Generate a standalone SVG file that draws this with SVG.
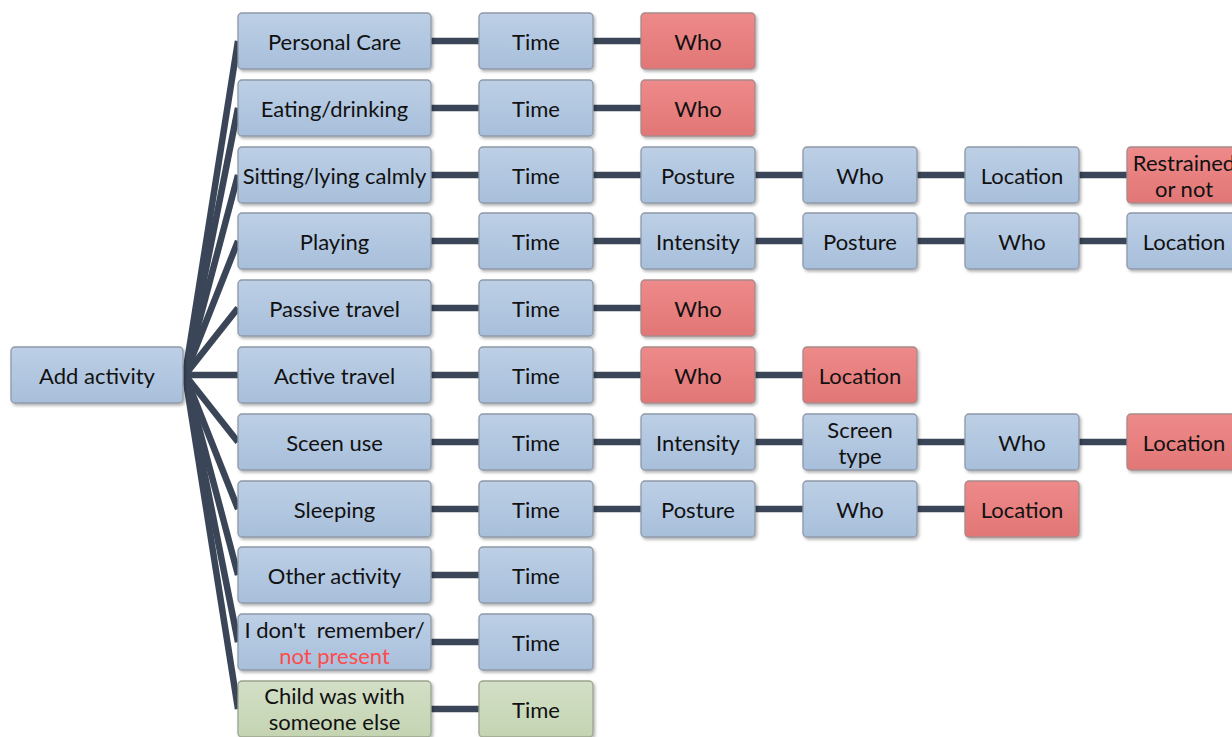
<svg xmlns="http://www.w3.org/2000/svg" width="1232" height="737" viewBox="0 0 1232 737">
<defs>
<linearGradient id="gb" x1="0" y1="0" x2="0" y2="1"><stop offset="0" stop-color="#bccfe5"/><stop offset="1" stop-color="#a8bfdb"/></linearGradient>
<linearGradient id="gr" x1="0" y1="0" x2="0" y2="1"><stop offset="0" stop-color="#ee8a8a"/><stop offset="1" stop-color="#e27676"/></linearGradient>
<linearGradient id="gg" x1="0" y1="0" x2="0" y2="1"><stop offset="0" stop-color="#d3dfc6"/><stop offset="1" stop-color="#c4d4b2"/></linearGradient>
<filter id="sh" x="-10%" y="-20%" width="130%" height="150%"><feDropShadow dx="1.5" dy="2" stdDeviation="1.8" flood-color="#000" flood-opacity="0.3"/></filter>
</defs>
<style>
.b rect{stroke:#8e99a8;stroke-width:1.3;filter:url(#sh)}
.blue rect{fill:url(#gb)}
.red rect{fill:url(#gr);stroke:#a88a8a}
.green rect{fill:url(#gg);stroke:#9aa48f}
.b text{font-family:Lato,"Open Sans",sans-serif;font-size:22px;fill:#111;text-anchor:middle;dominant-baseline:central;white-space:pre}
.b text .rt{fill:#ff4b4b}
#conn line{stroke:#3a4658;stroke-width:6.5;stroke-linecap:butt}
</style>
<rect width="1232" height="737" fill="#fff"/>
<g id="conn">
<line x1="185" y1="375" x2="238" y2="41"/>
<line x1="185" y1="375" x2="238" y2="108"/>
<line x1="185" y1="375" x2="238" y2="175"/>
<line x1="185" y1="375" x2="238" y2="241"/>
<line x1="185" y1="375" x2="238" y2="308"/>
<line x1="185" y1="375" x2="238" y2="375"/>
<line x1="185" y1="375" x2="238" y2="442"/>
<line x1="185" y1="375" x2="238" y2="509"/>
<line x1="185" y1="375" x2="238" y2="575"/>
<line x1="185" y1="375" x2="238" y2="642"/>
<line x1="185" y1="375" x2="238" y2="709"/>
<line x1="431" y1="41" x2="479" y2="41"/><line x1="593" y1="41" x2="641" y2="41"/>
<line x1="431" y1="108" x2="479" y2="108"/><line x1="593" y1="108" x2="641" y2="108"/>
<line x1="431" y1="175" x2="479" y2="175"/><line x1="593" y1="175" x2="641" y2="175"/><line x1="755" y1="175" x2="803" y2="175"/><line x1="917" y1="175" x2="965" y2="175"/><line x1="1079" y1="175" x2="1127" y2="175"/>
<line x1="431" y1="241" x2="479" y2="241"/><line x1="593" y1="241" x2="641" y2="241"/><line x1="755" y1="241" x2="803" y2="241"/><line x1="917" y1="241" x2="965" y2="241"/><line x1="1079" y1="241" x2="1127" y2="241"/>
<line x1="431" y1="308" x2="479" y2="308"/><line x1="593" y1="308" x2="641" y2="308"/>
<line x1="431" y1="375" x2="479" y2="375"/><line x1="593" y1="375" x2="641" y2="375"/><line x1="755" y1="375" x2="803" y2="375"/>
<line x1="431" y1="442" x2="479" y2="442"/><line x1="593" y1="442" x2="641" y2="442"/><line x1="755" y1="442" x2="803" y2="442"/><line x1="917" y1="442" x2="965" y2="442"/><line x1="1079" y1="442" x2="1127" y2="442"/>
<line x1="431" y1="509" x2="479" y2="509"/><line x1="593" y1="509" x2="641" y2="509"/><line x1="755" y1="509" x2="803" y2="509"/><line x1="917" y1="509" x2="965" y2="509"/>
<line x1="431" y1="575" x2="479" y2="575"/>
<line x1="431" y1="642" x2="479" y2="642"/>
<line x1="431" y1="709" x2="479" y2="709"/>
</g>
<g id="add" class="b blue"><rect x="11" y="347" width="172" height="56" rx="4"/><text x="97" y="375">Add activity</text></g>

<g id="r0c1" class="b blue"><rect x="238" y="13" width="193" height="56" rx="4"/><text x="334.5" y="41">Personal Care</text></g>
<g id="r0c2" class="b blue"><rect x="479" y="13" width="114" height="56" rx="4"/><text x="536" y="41">Time</text></g>
<g id="r0c3" class="b red"><rect x="641" y="13" width="114" height="56" rx="4"/><text x="698" y="41">Who</text></g>

<g id="r1c1" class="b blue"><rect x="238" y="80" width="193" height="56" rx="4"/><text x="334.5" y="108">Eating/drinking</text></g>
<g id="r1c2" class="b blue"><rect x="479" y="80" width="114" height="56" rx="4"/><text x="536" y="108">Time</text></g>
<g id="r1c3" class="b red"><rect x="641" y="80" width="114" height="56" rx="4"/><text x="698" y="108">Who</text></g>

<g id="r2c1" class="b blue"><rect x="238" y="147" width="193" height="56" rx="4"/><text x="334.5" y="175">Sitting/lying calmly</text></g>
<g id="r2c2" class="b blue"><rect x="479" y="147" width="114" height="56" rx="4"/><text x="536" y="175">Time</text></g>
<g id="r2c3" class="b blue"><rect x="641" y="147" width="114" height="56" rx="4"/><text x="698" y="175">Posture</text></g>
<g id="r2c4" class="b blue"><rect x="803" y="147" width="114" height="56" rx="4"/><text x="860" y="175">Who</text></g>
<g id="r2c5" class="b blue"><rect x="965" y="147" width="114" height="56" rx="4"/><text x="1022" y="175">Location</text></g>
<g id="r2c6" class="b red"><rect x="1127" y="147" width="114" height="56" rx="4"/><text x="1184" y="162">Restrained</text><text x="1184" y="188">or not</text></g>

<g id="r3c1" class="b blue"><rect x="238" y="213" width="193" height="56" rx="4"/><text x="334.5" y="241">Playing</text></g>
<g id="r3c2" class="b blue"><rect x="479" y="213" width="114" height="56" rx="4"/><text x="536" y="241">Time</text></g>
<g id="r3c3" class="b blue"><rect x="641" y="213" width="114" height="56" rx="4"/><text x="698" y="241">Intensity</text></g>
<g id="r3c4" class="b blue"><rect x="803" y="213" width="114" height="56" rx="4"/><text x="860" y="241">Posture</text></g>
<g id="r3c5" class="b blue"><rect x="965" y="213" width="114" height="56" rx="4"/><text x="1022" y="241">Who</text></g>
<g id="r3c6" class="b blue"><rect x="1127" y="213" width="114" height="56" rx="4"/><text x="1184" y="241">Location</text></g>

<g id="r4c1" class="b blue"><rect x="238" y="280" width="193" height="56" rx="4"/><text x="334.5" y="308">Passive travel</text></g>
<g id="r4c2" class="b blue"><rect x="479" y="280" width="114" height="56" rx="4"/><text x="536" y="308">Time</text></g>
<g id="r4c3" class="b red"><rect x="641" y="280" width="114" height="56" rx="4"/><text x="698" y="308">Who</text></g>

<g id="r5c1" class="b blue"><rect x="238" y="347" width="193" height="56" rx="4"/><text x="334.5" y="375">Active travel</text></g>
<g id="r5c2" class="b blue"><rect x="479" y="347" width="114" height="56" rx="4"/><text x="536" y="375">Time</text></g>
<g id="r5c3" class="b red"><rect x="641" y="347" width="114" height="56" rx="4"/><text x="698" y="375">Who</text></g>
<g id="r5c4" class="b red"><rect x="803" y="347" width="114" height="56" rx="4"/><text x="860" y="375">Location</text></g>

<g id="r6c1" class="b blue"><rect x="238" y="414" width="193" height="56" rx="4"/><text x="334.5" y="442">Sceen use</text></g>
<g id="r6c2" class="b blue"><rect x="479" y="414" width="114" height="56" rx="4"/><text x="536" y="442">Time</text></g>
<g id="r6c3" class="b blue"><rect x="641" y="414" width="114" height="56" rx="4"/><text x="698" y="442">Intensity</text></g>
<g id="r6c4" class="b blue"><rect x="803" y="414" width="114" height="56" rx="4"/><text x="860" y="429">Screen</text><text x="860" y="455">type</text></g>
<g id="r6c5" class="b blue"><rect x="965" y="414" width="114" height="56" rx="4"/><text x="1022" y="442">Who</text></g>
<g id="r6c6" class="b red"><rect x="1127" y="414" width="114" height="56" rx="4"/><text x="1184" y="442">Location</text></g>

<g id="r7c1" class="b blue"><rect x="238" y="481" width="193" height="56" rx="4"/><text x="334.5" y="509">Sleeping</text></g>
<g id="r7c2" class="b blue"><rect x="479" y="481" width="114" height="56" rx="4"/><text x="536" y="509">Time</text></g>
<g id="r7c3" class="b blue"><rect x="641" y="481" width="114" height="56" rx="4"/><text x="698" y="509">Posture</text></g>
<g id="r7c4" class="b blue"><rect x="803" y="481" width="114" height="56" rx="4"/><text x="860" y="509">Who</text></g>
<g id="r7c5" class="b red"><rect x="965" y="481" width="114" height="56" rx="4"/><text x="1022" y="509">Location</text></g>

<g id="r8c1" class="b blue"><rect x="238" y="547" width="193" height="56" rx="4"/><text x="334.5" y="575">Other activity</text></g>
<g id="r8c2" class="b blue"><rect x="479" y="547" width="114" height="56" rx="4"/><text x="536" y="575">Time</text></g>

<g id="r9c1" class="b blue"><rect x="238" y="614" width="193" height="56" rx="4"/><text x="334.5" y="629">I don't  remember/</text><text x="334.5" y="655"><tspan class="rt">not present</tspan></text></g>
<g id="r9c2" class="b blue"><rect x="479" y="614" width="114" height="56" rx="4"/><text x="536" y="642">Time</text></g>

<g id="r10c1" class="b green"><rect x="238" y="681" width="193" height="56" rx="4"/><text x="334.5" y="695">Child was with</text><text x="334.5" y="721">someone else</text></g>
<g id="r10c2" class="b green"><rect x="479" y="681" width="114" height="56" rx="4"/><text x="536" y="709">Time</text></g>
</svg>
